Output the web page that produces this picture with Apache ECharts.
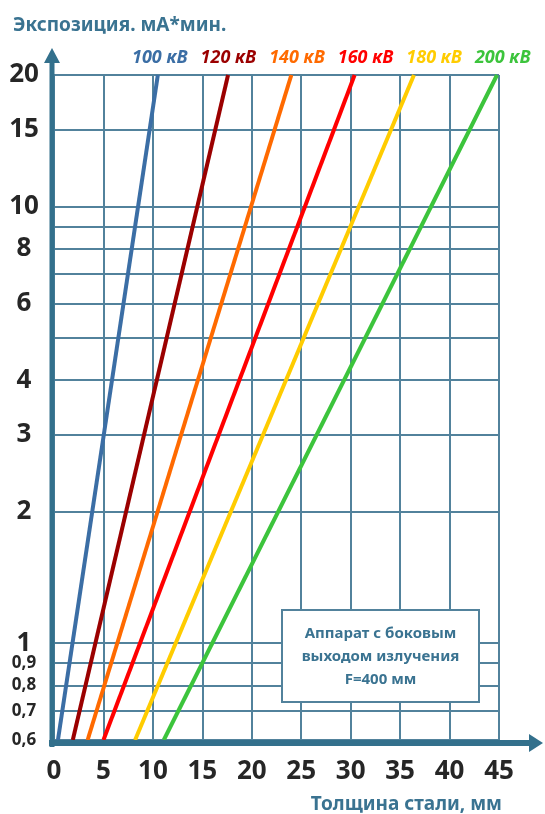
<!DOCTYPE html>
<html>
<head>
<meta charset="utf-8">
<script src="https://cdn.jsdelivr.net/npm/echarts@6/dist/echarts.min.js"></script>
<style>
  html, body { margin: 0; padding: 0; background: #fff; }
  #chart { width: 545px; height: 814px; }
</style>
</head>
<body>
<div id="chart"></div>
<script>
// напряжение трубки
var voltages = ['100 кВ', '120 кВ', '140 кВ', '160 кВ', '180 кВ', '200 кВ'];
// толщина стали (мм) при экспозиции 0,6 и 20 мА*мин
var thickAtLow = [0.4, 1.9, 3.4, 5.0, 8.2, 11.1];
var thickAtHigh = [10.5, 17.6, 24.0, 30.4, 36.4, 44.8];
var exposureLow = 0.6;
var exposureHigh = 20;
// линии сетки и подписи оси Y
var yGridValues = [0.6, 0.7, 0.8, 0.9, 1, 2, 3, 4, 5, 6, 7, 8, 9, 10, 15, 20];
var yLabelValues = [0.6, 0.7, 0.8, 0.9, 1, 2, 3, 4, 6, 8, 10, 15, 20];
var xMax = 45;
var xStep = 5;

var colors = ['#3b6ea5', '#9b0000', '#ff6a00', '#ff0000', '#ffcc00', '#3cc43c'];
var axisColor = '#33708c';
var gridColor = '#52829c';
var textColor = '#3a7391';
var font = 'Noto Sans';

var chartDom = document.getElementById('chart');
var myChart = echarts.init(chartDom);

var series = voltages.map(function (name, i) {
  return {
    name: name,
    type: 'line',
    symbol: 'none',
    silent: true,
    data: [[thickAtLow[i], exposureLow], [thickAtHigh[i], exposureHigh]],
    lineStyle: { color: colors[i], width: 4 },
    itemStyle: { color: colors[i] },
    z: 3
  };
});

var option = {
  animation: false,
  grid: { left: 54, right: 46, top: 75, bottom: 74 },
  title: [
    {
      text: 'Экспозиция. мА*мин.',
      left: 8, top: 11,
      textStyle: { color: textColor, fontFamily: font, fontWeight: 'bold', fontSize: 19 }
    },
    {
      text: 'Толщина стали, мм',
      right: 38, top: 790,
      textStyle: { color: textColor, fontFamily: font, fontWeight: 'bold', fontSize: 19 }
    }
  ],
  legend: {
    left: 122, top: 44,
    width: 440,
    icon: 'none',
    itemWidth: 0, itemHeight: 0,
    itemGap: 8,
    selectedMode: false,
    data: voltages.map(function (v, i) {
      return { name: v, textStyle: { color: colors[i] } };
    }),
    textStyle: { fontFamily: font, fontWeight: 'bold', fontStyle: 'italic', fontSize: 18 }
  },
  xAxis: {
    type: 'value',
    min: 0, max: xMax, interval: xStep,
    axisLine: { show: false },
    axisTick: { show: false },
    axisLabel: {
      margin: 19,
      color: '#262626', fontFamily: font, fontWeight: 'bold', fontSize: 26
    },
    splitLine: { show: true, lineStyle: { color: gridColor, width: 2 } }
  },
  yAxis: {
    type: 'log',
    logBase: 10,
    min: exposureLow, max: exposureHigh,
    axisLine: { show: false },
    axisTick: { show: false, customValues: yGridValues },
    axisLabel: {
      customValues: yLabelValues,
      margin: 30,
      align: 'center',
      formatter: function (v) {
        var s = String(Math.round(v * 10) / 10).replace('.', ',');
        return v < 1 ? '{small|' + s + '}' : '{big|' + s + '}';
      },
      rich: {
        big: { color: '#262626', fontFamily: font, fontWeight: 'bold', fontSize: 26 },
        small: { color: '#262626', fontFamily: font, fontWeight: 'bold', fontSize: 17 }
      }
    },
    splitLine: { show: true, lineStyle: { color: gridColor, width: 2 } }
  },
  series: series
};

option && myChart.setOption(option);

// оси со стрелками и табличка
function drawExtras() {
  var o = myChart.convertToPixel({ gridIndex: 0 }, [0, exposureLow]);
  var tr = myChart.convertToPixel({ gridIndex: 0 }, [xMax, exposureHigh]);
  var x0 = o[0] - 2, y0 = o[1] + 3;
  var xEnd = tr[0] + 44, yEnd = tr[1] - 27;
  myChart.setOption({
    graphic: [
      { type: 'line', z: 10, shape: { x1: x0, y1: y0 + 4, x2: x0, y2: yEnd + 12 },
        style: { stroke: axisColor, lineWidth: 5 } },
      { type: 'polygon', z: 10, shape: { points: [[x0 - 8, yEnd + 15], [x0, yEnd], [x0 + 8, yEnd + 15]] },
        style: { fill: axisColor } },
      { type: 'line', z: 10, shape: { x1: x0 - 3, y1: y0, x2: xEnd - 12, y2: y0 },
        style: { stroke: axisColor, lineWidth: 6 } },
      { type: 'polygon', z: 10, shape: { points: [[xEnd - 14, y0 - 9], [xEnd, y0], [xEnd - 14, y0 + 9]] },
        style: { fill: axisColor } },
      { type: 'rect', z: 10, shape: { x: 282, y: 610, width: 197, height: 92 },
        style: { fill: '#fff', stroke: gridColor, lineWidth: 2 } },
      { type: 'text', z: 11, x: 380.5, y: 657,
        style: {
          text: 'Аппарат с боковым\nвыходом излучения\nF=400 мм',
          fill: textColor, font: 'bold 15px "Noto Sans"',
          lineHeight: 23, align: 'center', verticalAlign: 'middle'
        } }
    ]
  });
}
drawExtras();

window.addEventListener('resize', function () {
  myChart.resize();
  drawExtras();
});
</script>
</body>
</html>
